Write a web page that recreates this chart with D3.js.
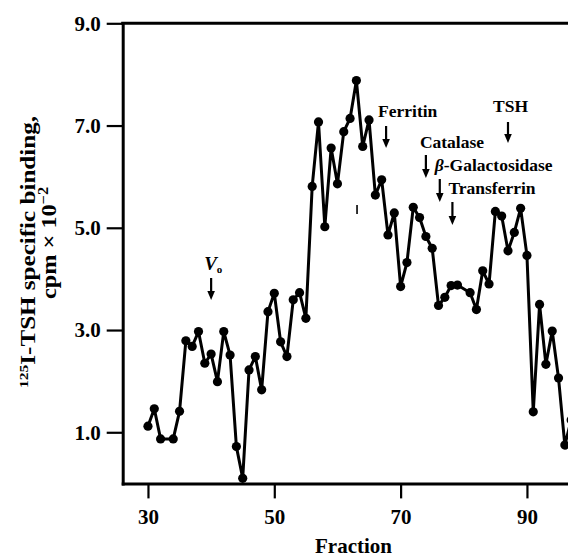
<!DOCTYPE html>
<html>
<head>
<meta charset="utf-8">
<script src="https://cdn.jsdelivr.net/npm/d3@7"></script>
<style>
  body { margin: 0; background: #fff; }
  svg text { font-family: "Liberation Serif", "Times New Roman", serif; font-weight: bold; fill: #000; }
</style>
</head>
<body>
<svg width="568" height="558"></svg>
<script>
// fraction number and specific binding (cpm x 10^-2)
var fractions = [30, 31, 32, 34, 35, 36, 37, 38, 39, 40, 41, 42, 43, 44, 45, 46, 47, 48, 49, 50,
  51, 52, 53, 54, 55, 56, 57, 58, 59, 60, 61, 62, 63, 64, 65, 66, 67, 68, 69, 70,
  71, 72, 73, 74, 75, 76, 77, 78, 79, 81, 82, 83, 84, 85, 86, 87, 88, 89, 90,
  91, 92, 93, 94, 95, 96, 97];
var binding = [1.12, 1.46, 0.87, 0.87, 1.41, 2.79, 2.68, 2.97, 2.35, 2.53, 1.99, 2.97, 2.51, 0.72, 0.10, 2.22, 2.48, 1.83, 3.36, 3.72,
  2.77, 2.48, 3.59, 3.73, 3.23, 5.81, 7.07, 5.02, 6.56, 5.86, 6.88, 7.14, 7.88, 6.59, 7.11, 5.64, 5.94, 4.86, 5.29, 3.85,
  4.32, 5.40, 5.20, 4.83, 4.60, 3.48, 3.64, 3.87, 3.88, 3.73, 3.40, 4.16, 3.90, 5.32, 5.23, 4.55, 4.91, 5.38, 4.46,
  1.40, 3.50, 2.33, 2.98, 2.06, 0.75, 1.24];

var xTicks = [30, 50, 70, 90];
var yTicks = [1, 3, 5, 7, 9];

// marker proteins (elution position in fractions)
var markerNames = ["Ferritin", "Catalase", "\u03b2-Galactosidase", "Transferrin", "TSH"];
var markerFractions = [67.7, 74, 76.2, 78.2, 87];
var voidFraction = 40;

var points = fractions.map(function (f, i) {
  return { f: f, v: binding[i] };
});

var svg = d3.select("svg"),
  width = +svg.attr("width"),
  height = +svg.attr("height");

var x = d3.scaleLinear().domain([26, 96.5]).range([122.7, width]);
var y = d3.scaleLinear().domain([0, 9]).range([483.4, 23.3]);

// axes
var yAxis = svg
  .append("g")
  .attr("transform", "translate(" + x(26) + ",0)")
  .call(
    d3.axisLeft(y)
      .tickValues(yTicks)
      .tickFormat(d3.format(".1f"))
      .tickSize(16)
      .tickSizeOuter(0)
      .tickPadding(6)
  );

var xAxis = svg
  .append("g")
  .attr("transform", "translate(0," + y(0) + ")")
  .call(
    d3.axisBottom(x)
      .tickValues(xTicks)
      .tickSize(15)
      .tickSizeOuter(0)
      .tickPadding(11)
  );

[yAxis, xAxis].forEach(function (ax) {
  ax.attr("font-family", null).attr("font-size", null);
  ax.select(".domain").attr("stroke-width", 3).attr("stroke-linecap", "square");
  ax.selectAll(".tick line").attr("stroke-width", 2.2);
  ax.selectAll(".tick text").style("font-size", "21px");
});

svg
  .append("line")
  .attr("x1", x(26) - 1.5)
  .attr("x2", width)
  .attr("y1", y(9))
  .attr("y2", y(9))
  .attr("stroke", "#000")
  .attr("stroke-width", 3);

// data
var line = d3
  .line()
  .x(function (d) { return x(d.f); })
  .y(function (d) { return y(d.v); });

svg
  .append("path")
  .datum(points)
  .attr("d", line)
  .attr("fill", "none")
  .attr("stroke", "#000")
  .attr("stroke-width", 3)
  .attr("stroke-linejoin", "round");

svg
  .append("g")
  .selectAll("circle")
  .data(points)
  .enter()
  .append("circle")
  .attr("cx", function (d) { return x(d.f); })
  .attr("cy", function (d) { return y(d.v); })
  .attr("r", 4.6)
  .attr("fill", "#000");

// arrows
function arrow(xPos, top, bottom) {
  svg
    .append("line")
    .attr("x1", xPos)
    .attr("x2", xPos)
    .attr("y1", top)
    .attr("y2", bottom - 6)
    .attr("stroke", "#000")
    .attr("stroke-width", 2.2);
  svg
    .append("path")
    .attr("d", "M" + (xPos - 3.8) + "," + (bottom - 9) + "L" + (xPos + 3.8) + "," + (bottom - 9) + "L" + xPos + "," + bottom + "Z")
    .attr("fill", "#000");
}

var arrowTop = [126, 155, 179, 202, 122];
var arrowBottom = [148, 178, 202, 225, 143];
var labelDx = [-8, -6, -5, -4, -15];
var labelY = [116.5, 148, 171, 194, 111.5];

markerNames.forEach(function (name, i) {
  var xp = x(markerFractions[i]);
  arrow(xp, arrowTop[i], arrowBottom[i]);
  var t = svg
    .append("text")
    .attr("x", xp + labelDx[i])
    .attr("y", labelY[i])
    .style("font-size", "17.5px");
  if (name.charAt(0) === "\u03b2") {
    t.append("tspan").style("font-style", "italic").text("\u03b2");
    t.append("tspan").text(name.slice(1));
  } else {
    t.text(name);
  }
});

// void volume
arrow(x(voidFraction), 278, 300);
var vo = svg
  .append("text")
  .attr("x", x(voidFraction) - 7)
  .attr("y", 270)
  .style("font-size", "19px");
vo.append("tspan").style("font-style", "italic").text("V");
vo.append("tspan").attr("dy", 3).style("font-size", "11px").text("o");

// stray mark below the peak
svg
  .append("line")
  .attr("x1", x(63.1))
  .attr("x2", x(63.1))
  .attr("y1", 205)
  .attr("y2", 214)
  .attr("stroke", "#000")
  .attr("stroke-width", 1.6);

// axis titles
svg
  .append("text")
  .attr("x", 353.5)
  .attr("y", 553)
  .attr("text-anchor", "middle")
  .style("font-size", "21px")
  .text("Fraction");

var yt1 = svg
  .append("text")
  .attr("transform", "translate(35,252) rotate(-90)")
  .attr("text-anchor", "middle")
  .attr("textLength", 272)
  .attr("lengthAdjust", "spacingAndGlyphs")
  .style("font-size", "21px");
yt1.append("tspan").attr("dy", -7).style("font-size", "13px").text("125");
yt1.append("tspan").attr("dy", 7).text("I-TSH specific binding,");

var yt2 = svg
  .append("text")
  .attr("transform", "translate(56,243) rotate(-90)")
  .attr("text-anchor", "middle")
  .attr("textLength", 112)
  .attr("lengthAdjust", "spacingAndGlyphs")
  .style("font-size", "21px");
yt2.append("tspan").text("cpm \u00d7 10");
yt2.append("tspan").attr("dy", -8).style("font-size", "14px").text("\u22122");
</script>
</body>
</html>
